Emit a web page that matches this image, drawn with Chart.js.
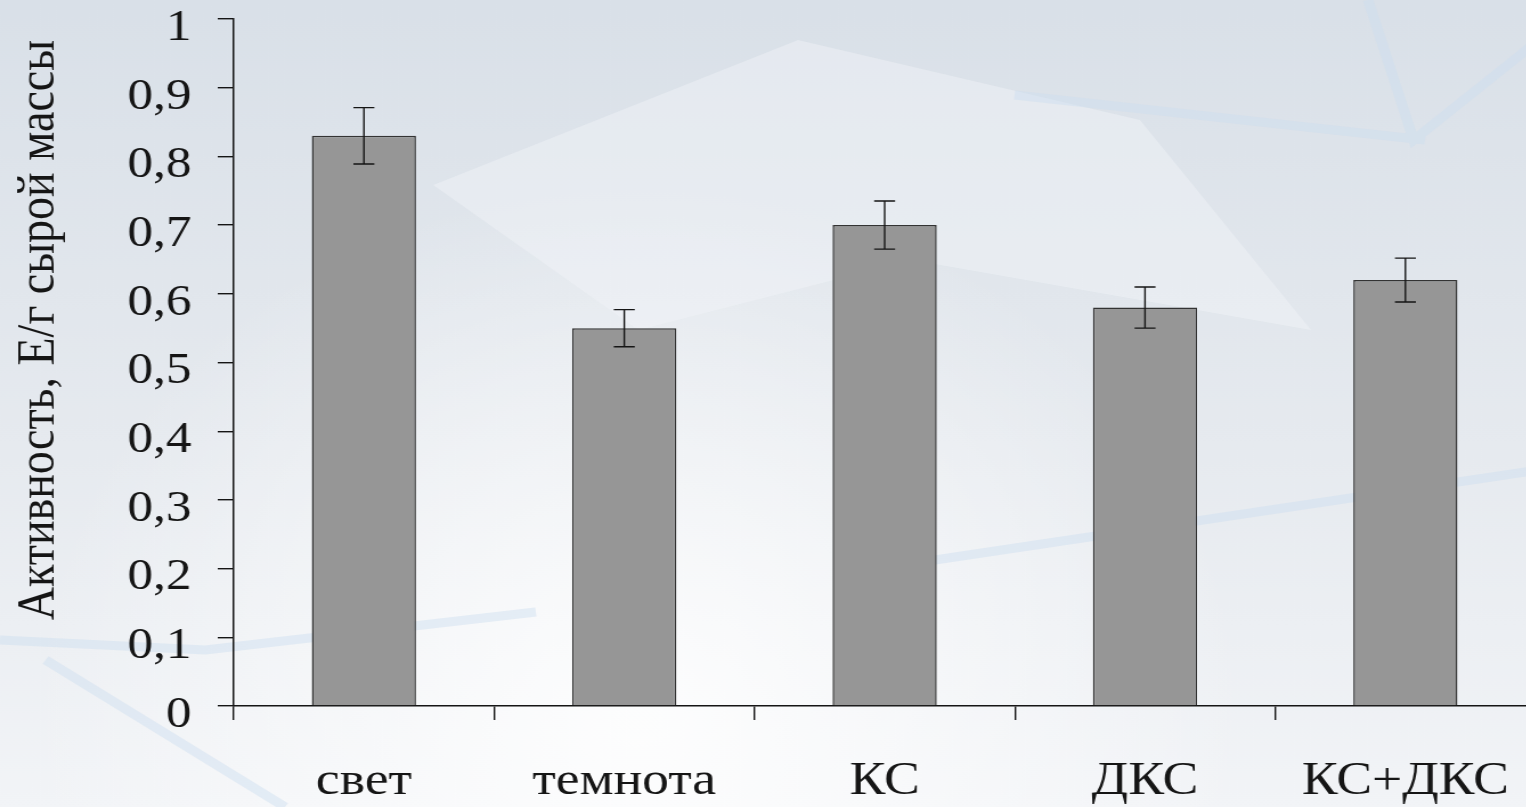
<!DOCTYPE html>
<html>
<head>
<meta charset="utf-8">
<script src="https://cdn.jsdelivr.net/npm/chart.js@4"></script>
<style>
  html, body { margin: 0; padding: 0; overflow: hidden; background: #e6ebf0; }
  /* the original picture is stretched sideways, so the canvas is too */
  #wrap { width: 1350px; height: 807px; transform: scaleX(1.14); transform-origin: 0 0; }
</style>
</head>
<body>
<div id="wrap"><canvas id="activity-chart" width="1350" height="807"></canvas></div>
<script>
const categories = ['свет', 'темнота', 'КС', 'ДКС', 'КС+ДКС'];
const activity = [0.83, 0.55, 0.70, 0.58, 0.62];
const activityError = [0.041, 0.027, 0.035, 0.030, 0.032];
const yTickLabels = ['0', '0,1', '0,2', '0,3', '0,4', '0,5', '0,6', '0,7', '0,8', '0,9', '1'];
const yTitle = 'Активность, Е/г сырой массы';

const FONT = "'Liberation Serif', 'Times New Roman', serif";
const INK = '#151515';

// светлый фон с размытыми "ледяными" полосами
const backgroundPlugin = {
    id: 'bg',
    beforeDraw(chart) {
        const { ctx, width, height } = chart;
        ctx.save();
        const g = ctx.createLinearGradient(0, 0, 0, height);
        g.addColorStop(0, '#d9e0e8');
        g.addColorStop(0.55, '#e6eaef');
        g.addColorStop(1, '#f2f4f7');
        ctx.fillStyle = g;
        ctx.fillRect(0, 0, width, height);

        const r = ctx.createRadialGradient(560, 720, 20, 560, 720, 540);
        r.addColorStop(0, 'rgba(255,255,255,0.85)');
        r.addColorStop(1, 'rgba(255,255,255,0)');
        ctx.fillStyle = r;
        ctx.fillRect(0, 0, width, height);

        ctx.fillStyle = 'rgba(242,245,248,0.45)';
        ctx.beginPath();
        ctx.moveTo(380, 185); ctx.lineTo(700, 40); ctx.lineTo(1000, 120);
        ctx.lineTo(1150, 330); ctx.lineTo(800, 260); ctx.lineTo(560, 330);
        ctx.closePath();
        ctx.fill();

        ctx.strokeStyle = 'rgba(205,222,240,0.45)';
        ctx.lineWidth = 9;
        ctx.beginPath();
        ctx.moveTo(0, 640); ctx.lineTo(180, 650); ctx.lineTo(470, 612);
        ctx.moveTo(820, 560); ctx.lineTo(1350, 470);
        ctx.moveTo(890, 95); ctx.lineTo(1250, 140);
        ctx.moveTo(1200, 0); ctx.lineTo(1240, 140); ctx.lineTo(1350, 40);
        ctx.moveTo(40, 660); ctx.lineTo(250, 807);
        ctx.stroke();
        ctx.restore();
    }
};

// планки погрешностей
const errorBarPlugin = {
    id: 'errorBars',
    afterDatasetsDraw(chart) {
        const { ctx } = chart;
        const yScale = chart.scales.y;
        const meta = chart.getDatasetMeta(0);
        ctx.save();
        ctx.strokeStyle = INK;
        ctx.lineWidth = 1.4;
        meta.data.forEach((bar, i) => {
            const top = yScale.getPixelForValue(activity[i] + activityError[i]);
            const bottom = yScale.getPixelForValue(activity[i] - activityError[i]);
            const half = 9.2;
            ctx.beginPath();
            ctx.moveTo(bar.x, top); ctx.lineTo(bar.x, bottom);
            ctx.moveTo(bar.x - half, top); ctx.lineTo(bar.x + half, top);
            ctx.moveTo(bar.x - half, bottom); ctx.lineTo(bar.x + half, bottom);
            ctx.stroke();
        });
        ctx.restore();
    }
};

// подпись оси Y
const yTitlePlugin = {
    id: 'yTitle',
    afterDraw(chart) {
        const { ctx } = chart;
        ctx.save();
        ctx.translate(35, 330);
        ctx.rotate(-Math.PI / 2);
        ctx.font = '46px ' + FONT;
        ctx.fillStyle = INK;
        ctx.textAlign = 'center';
        ctx.textBaseline = 'middle';
        ctx.fillText(yTitle, 0, 0);
        ctx.restore();
    }
};

const ctx = document.getElementById('activity-chart').getContext('2d');

new Chart(ctx, {
    type: 'bar',
    data: {
        labels: categories,
        datasets: [{
            data: activity,
            backgroundColor: '#969696',
            borderColor: '#333333',
            borderWidth: 1.5,
            categoryPercentage: 1,
            barPercentage: 0.40
        }]
    },
    options: {
        responsive: false,
        devicePixelRatio: 1,
        animation: false,
        layout: { padding: { top: 19, right: 3, bottom: 0, left: 0 } },
        plugins: {
            legend: { display: false },
            tooltip: { enabled: false }
        },
        scales: {
            x: {
                grid: { offset: true, drawOnChartArea: false, tickLength: 14, color: INK, lineWidth: 1.4 },
                border: { display: true, color: INK, width: 1.5 },
                ticks: {
                    color: INK,
                    padding: 33,
                    maxRotation: 0,
                    font: { family: FONT, size: 47 }
                },
                afterFit(scale) {
                    scale.height = 101;
                    scale.paddingLeft = 0;
                    scale.paddingRight = 0;
                }
            },
            y: {
                min: 0,
                max: 1,
                grid: { drawOnChartArea: false, tickLength: 14, color: INK, lineWidth: 1.4 },
                border: { display: true, color: INK, width: 1.5 },
                ticks: {
                    stepSize: 0.1,
                    color: INK,
                    padding: 23,
                    labelOffset: 9,
                    font: { family: FONT, size: 45 },
                    callback: (value, index) => yTickLabels[index]
                },
                afterFit(scale) {
                    scale.width = 205;
                    scale.paddingTop = 0;
                    scale.paddingBottom = 0;
                }
            }
        }
    },
    plugins: [backgroundPlugin, errorBarPlugin, yTitlePlugin]
});
</script>
</body>
</html>
